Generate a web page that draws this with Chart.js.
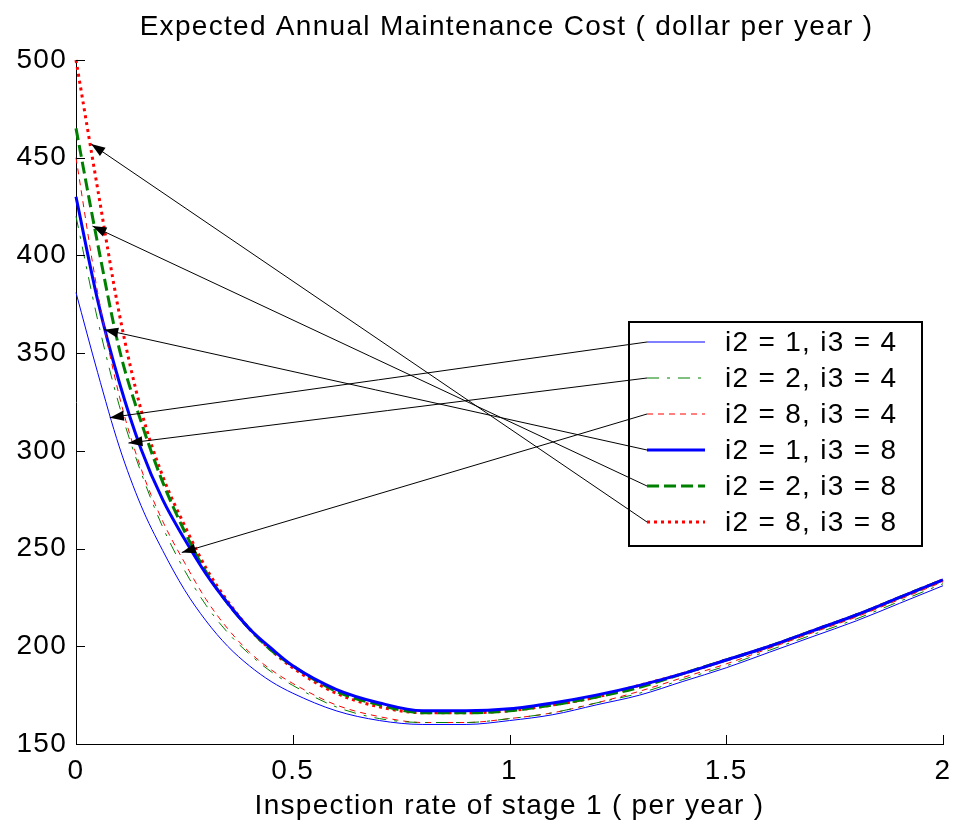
<!DOCTYPE html>
<html>
<head>
<meta charset="utf-8">
<script src="https://cdn.jsdelivr.net/npm/chart.js@4/dist/chart.umd.min.js"></script>
<style>
  html, body { margin: 0; padding: 0; background: #fff; }
  #wrap { width: 954px; height: 831px; }
</style>
</head>
<body>
<div id="wrap"><canvas id="cost-chart" width="954" height="831"></canvas></div>
<script>
// inspection rate of stage 1 (per year)
const rates = [0, 0.05, 0.1, 0.15, 0.2, 0.25, 0.3, 0.35, 0.4, 0.45, 0.5, 0.6, 0.7, 0.8, 0.9, 1.0, 1.1, 1.2, 1.3, 1.4, 1.5, 1.6, 1.7, 1.8, 1.9, 2.0];

// expected annual maintenance cost (dollar per year)
const cost_1_4 = [381, 340, 302, 272, 249, 229, 213, 200, 190, 182, 176, 167, 162, 160, 160, 162, 165, 170, 175, 182, 189, 197, 205, 213, 222, 231];
const cost_2_4 = [420, 367, 323, 289, 261, 239, 221, 207, 196, 187, 180, 169, 163, 161, 161, 163, 166, 171, 176, 183, 190, 198, 206, 214, 223, 232];
const cost_8_4 = [450, 381, 328, 291, 264, 243, 224, 209, 197, 188, 181, 170, 164, 161, 161, 163, 166, 171, 177, 184, 191, 199, 207, 215, 224, 233];
const cost_1_8 = [430, 377, 335, 301, 275, 255, 237, 222, 209, 199, 190, 178, 171, 167, 167, 168, 171, 175, 180, 186, 193, 200, 208, 216, 225, 234];
const cost_2_8 = [465, 406, 352, 315, 284, 259, 238, 222, 209, 198, 190, 177, 170, 166, 166, 167, 170, 174, 179, 186, 193, 200, 208, 216, 225, 234];
const cost_8_8 = [500, 434, 370, 321, 287, 262, 240, 223, 209, 198, 189, 176, 169, 166, 166, 167, 170, 174, 180, 186, 193, 200, 208, 216, 225, 234];

const seriesNames = ['i2 = 1, i3 = 4', 'i2 = 2, i3 = 4', 'i2 = 8, i3 = 4', 'i2 = 1, i3 = 8', 'i2 = 2, i3 = 8', 'i2 = 8, i3 = 8'];

// where each annotation arrow points on its curve
const arrowTipX = [0.078, 0.121, 0.244, 0.065, 0.038, 0.035];
const arrowTipY = [317, 304, 248, 362, 415, 457];

const xTicks = [0, 0.5, 1, 1.5, 2];
const yTicks = [150, 200, 250, 300, 350, 400, 450, 500];

const FONT = '"Liberation Sans", Arial, sans-serif';
const SPACING = '1.3px';

function pts(values) {
  return rates.map((r, i) => ({ x: r, y: values[i] }));
}

const styles = [
  { color: '#0000ff', width: 1, dash: [] },
  { color: '#008000', width: 1, dash: [12, 8, 3, 8] },
  { color: '#ff0000', width: 1, dash: [6, 5] },
  { color: '#0000ff', width: 3, dash: [] },
  { color: '#008000', width: 3, dash: [12, 5] },
  { color: '#ff0000', width: 3, dash: [3, 4] }
];

const allCosts = [cost_1_4, cost_2_4, cost_8_4, cost_1_8, cost_2_8, cost_8_8];

const datasets = allCosts.map((c, i) => ({
  label: seriesNames[i],
  data: pts(c),
  borderColor: styles[i].color,
  borderWidth: styles[i].width,
  borderDash: styles[i].dash,
  pointRadius: 0,
  fill: false,
  cubicInterpolationMode: 'monotone',
  clip: 3
}));

// the matlab font is set a bit wider than Arial
const spacing = {
  id: 'spacing',
  beforeUpdate(chart) { chart.ctx.letterSpacing = SPACING; },
  beforeDraw(chart) { chart.ctx.letterSpacing = SPACING; }
};

// matlab style: inward ticks, boxed legend, arrows from legend to curves
const decor = {
  id: 'decor',
  afterDraw(chart) {
    const ctx = chart.ctx;
    const a = chart.chartArea;
    const xs = chart.scales.x, ys = chart.scales.y;
    ctx.save();
    ctx.strokeStyle = '#000';
    ctx.lineWidth = 1;
    ctx.setLineDash([]);
    xTicks.forEach(t => {
      const px = Math.round(xs.getPixelForValue(t)) + 0.5;
      ctx.beginPath();
      ctx.moveTo(px, a.bottom);
      ctx.lineTo(px, a.bottom - 9);
      ctx.stroke();
    });
    yTicks.forEach(t => {
      const py = Math.round(ys.getPixelForValue(t)) + 0.5;
      ctx.beginPath();
      ctx.moveTo(a.left, py);
      ctx.lineTo(a.left + 9, py);
      ctx.stroke();
    });

    // title
    ctx.fillStyle = '#000';
    ctx.font = '28px ' + FONT;
    ctx.letterSpacing = SPACING;
    ctx.textAlign = 'center';
    ctx.textBaseline = 'middle';
    ctx.fillText('Expected Annual Maintenance Cost ( dollar per year )', (a.left + a.right) / 2 - 3, 27);

    // legend box
    const bx = a.right - 314, by = a.top + 262, bw = 293, bh = 224;
    ctx.fillStyle = '#fff';
    ctx.fillRect(bx, by, bw, bh);
    ctx.lineWidth = 2;
    ctx.strokeRect(bx, by, bw, bh);

    const rowY = i => by + 20 + i * 36;
    const sx0 = bx + 18, sx1 = bx + 76;
    ctx.textAlign = 'left';
    ctx.textBaseline = 'middle';
    seriesNames.forEach((name, i) => {
      const y = rowY(i);
      ctx.strokeStyle = styles[i].color;
      ctx.lineWidth = styles[i].width;
      ctx.setLineDash(styles[i].dash);
      ctx.beginPath();
      ctx.moveTo(sx0, y);
      ctx.lineTo(sx1, y);
      ctx.stroke();
      ctx.setLineDash([]);
      ctx.fillStyle = '#000';
      ctx.font = '28px ' + FONT;
      ctx.fillText(name, bx + 96, y + 1);
    });

    // arrows
    ctx.strokeStyle = '#000';
    ctx.fillStyle = '#000';
    ctx.lineWidth = 1;
    seriesNames.forEach((name, i) => {
      const tx = xs.getPixelForValue(arrowTipX[i]);
      const ty = ys.getPixelForValue(arrowTipY[i]);
      const fx = sx0, fy = rowY(i);
      ctx.beginPath();
      ctx.moveTo(fx, fy);
      ctx.lineTo(tx, ty);
      ctx.stroke();
      const ang = Math.atan2(ty - fy, tx - fx);
      const len = 14, half = 5;
      ctx.beginPath();
      ctx.moveTo(tx, ty);
      ctx.lineTo(tx - len * Math.cos(ang) + half * Math.sin(ang), ty - len * Math.sin(ang) - half * Math.cos(ang));
      ctx.lineTo(tx - len * Math.cos(ang) - half * Math.sin(ang), ty - len * Math.sin(ang) + half * Math.cos(ang));
      ctx.closePath();
      ctx.fill();
    });
    ctx.restore();
  }
};

new Chart(document.getElementById('cost-chart'), {
  type: 'line',
  data: { datasets },
  options: {
    responsive: false,
    animation: false,
    layout: { padding: { top: 60, right: 11, left: 0, bottom: 0 } },
    plugins: {
      legend: { display: false },
      title: { display: false },
      tooltip: { enabled: false }
    },
    scales: {
      x: {
        type: 'linear',
        min: 0,
        max: 2,
        afterFit(scale) {
          scale.height = 87;
          scale.paddingLeft = 0;
          scale.paddingRight = 0;
        },
        afterBuildTicks(scale) { scale.ticks = xTicks.map(v => ({ value: v })); },
        grid: { display: false, drawTicks: false },
        border: { display: true, color: '#000', width: 1 },
        ticks: {
          color: '#000',
          padding: 10,
          font: { family: FONT, size: 28 },
          callback: v => String(v)
        },
        title: {
          display: true,
          text: 'Inspection rate of stage 1 ( per year )',
          color: '#000',
          font: { family: FONT, size: 28 },
          padding: { top: 0, bottom: 8 }
        }
      },
      y: {
        type: 'linear',
        min: 150,
        max: 500,
        afterFit(scale) { scale.width = 76; },
        afterBuildTicks(scale) { scale.ticks = yTicks.map(v => ({ value: v })); },
        grid: { display: false, drawTicks: false },
        border: { display: true, color: '#000', width: 1 },
        ticks: {
          color: '#000',
          padding: 9,
          font: { family: FONT, size: 28 },
          callback: v => String(v)
        }
      }
    }
  },
  plugins: [spacing, decor]
});
</script>
</body>
</html>
